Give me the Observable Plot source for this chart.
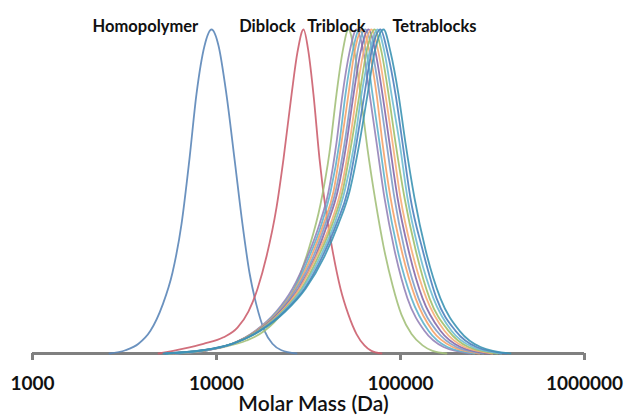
<!DOCTYPE html>
<html>
<head>
<meta charset="utf-8">
<script src="https://cdn.jsdelivr.net/npm/d3@7"></script>
<script src="https://cdn.jsdelivr.net/npm/@observablehq/plot@0.6"></script>
<style>
  html, body { margin: 0; padding: 0; background: #ffffff; }
  #chart { width: 628px; height: 418px; }
</style>
</head>
<body>
<div id="chart"></div>
<script>
// ---- data (log10 of molar mass, normalised intensity) ----
const homopolymerLogMass = [3.418, 3.505, 3.576, 3.641, 3.707, 3.761, 3.810, 3.853, 3.891, 3.935, 3.973, 4.011, 4.054, 4.098, 4.141, 4.179, 4.217, 4.261, 4.304, 4.353, 4.435];
const homopolymerIntensity = [0, 0.01, 0.03, 0.07, 0.15, 0.25, 0.4, 0.6, 0.8, 0.95, 1, 0.95, 0.8, 0.6, 0.4, 0.25, 0.15, 0.07, 0.03, 0.01, 0];

const diblockLogMass = [3.685, 3.821, 3.929, 4.038, 4.114, 4.174, 4.223, 4.272, 4.326, 4.364, 4.408, 4.440, 4.473, 4.500, 4.527, 4.560, 4.592, 4.630, 4.674, 4.717, 4.761, 4.804, 4.842, 4.897];
const diblockIntensity = [0, 0.015, 0.03, 0.05, 0.08, 0.13, 0.2, 0.3, 0.45, 0.6, 0.8, 0.93, 1, 0.93, 0.8, 0.6, 0.45, 0.32, 0.2, 0.12, 0.06, 0.025, 0.008, 0];

const triblockLogMass = [3.739, 3.902, 4.038, 4.163, 4.261, 4.348, 4.424, 4.500, 4.565, 4.614, 4.652, 4.685, 4.717, 4.750, 4.783, 4.821, 4.864, 4.908, 4.957, 5.005, 5.060, 5.120, 5.174, 5.250];
const triblockIntensity = [0, 0.008, 0.02, 0.04, 0.07, 0.12, 0.2, 0.32, 0.46, 0.62, 0.8, 0.93, 1, 0.93, 0.8, 0.63, 0.47, 0.33, 0.21, 0.12, 0.06, 0.025, 0.008, 0];

const tetrablockIntensity = [0, 0.01, 0.03, 0.07, 0.13, 0.2, 0.3, 0.4, 0.5, 0.65, 0.8, 0.93, 1, 0.93, 0.8, 0.65, 0.48, 0.32, 0.17, 0.07, 0.02, 0];
const tetrablock1LogMass  = [3.783, 3.951, 4.087, 4.212, 4.326, 4.413, 4.495, 4.560, 4.609, 4.652, 4.685, 4.723, 4.761, 4.799, 4.832, 4.870, 4.913, 4.967, 5.038, 5.130, 5.234, 5.380];
const tetrablock2LogMass  = [3.777, 3.951, 4.087, 4.217, 4.332, 4.424, 4.505, 4.571, 4.620, 4.668, 4.701, 4.739, 4.777, 4.815, 4.848, 4.886, 4.929, 4.984, 5.060, 5.152, 5.255, 5.402];
const tetrablock3LogMass  = [3.766, 3.946, 4.087, 4.217, 4.337, 4.429, 4.516, 4.582, 4.636, 4.679, 4.717, 4.750, 4.793, 4.832, 4.870, 4.902, 4.946, 5.005, 5.082, 5.174, 5.283, 5.429];
const tetrablock4LogMass  = [3.761, 3.946, 4.087, 4.223, 4.342, 4.435, 4.527, 4.592, 4.647, 4.696, 4.734, 4.766, 4.810, 4.848, 4.886, 4.924, 4.967, 5.022, 5.098, 5.196, 5.304, 5.451];
const tetrablock5LogMass  = [3.750, 3.940, 4.087, 4.223, 4.348, 4.446, 4.538, 4.603, 4.658, 4.707, 4.745, 4.783, 4.826, 4.864, 4.902, 4.940, 4.984, 5.043, 5.120, 5.217, 5.326, 5.478];
const tetrablock6LogMass  = [3.745, 3.935, 4.087, 4.228, 4.353, 4.451, 4.543, 4.620, 4.674, 4.723, 4.761, 4.799, 4.842, 4.880, 4.918, 4.957, 5.000, 5.060, 5.141, 5.239, 5.348, 5.500];
const tetrablock7LogMass  = [3.739, 3.935, 4.087, 4.228, 4.359, 4.462, 4.554, 4.630, 4.685, 4.734, 4.777, 4.815, 4.859, 4.897, 4.935, 4.973, 5.022, 5.082, 5.158, 5.261, 5.370, 5.527];
const tetrablock8LogMass  = [3.728, 3.929, 4.087, 4.234, 4.364, 4.467, 4.565, 4.641, 4.696, 4.750, 4.788, 4.832, 4.875, 4.913, 4.951, 4.995, 5.038, 5.098, 5.179, 5.277, 5.391, 5.549];
const tetrablock9LogMass  = [3.723, 3.924, 4.087, 4.234, 4.370, 4.478, 4.576, 4.652, 4.712, 4.761, 4.804, 4.842, 4.891, 4.929, 4.973, 5.011, 5.054, 5.120, 5.196, 5.299, 5.413, 5.576];
const tetrablock10LogMass = [3.712, 3.924, 4.082, 4.239, 4.375, 4.484, 4.587, 4.663, 4.723, 4.777, 4.821, 4.859, 4.908, 4.946, 4.989, 5.027, 5.076, 5.136, 5.217, 5.321, 5.435, 5.598];

const tickValues = [1000, 10000, 100000, 1000000];
const labelNames = ["Homopolymer", "Diblock", "Triblock", "Tetrablocks"];
const axisTitle = "Molar Mass (Da)";

// ---- build the table ----
const seriesDefs = [
  ["Homopolymer", homopolymerLogMass, homopolymerIntensity, "#5b86b8"],
  ["Diblock", diblockLogMass, diblockIntensity, "#cc5f6e"],
  ["Triblock", triblockLogMass, triblockIntensity, "#a3c07a"],
  ["Tetrablock 1", tetrablock1LogMass, tetrablockIntensity, "#9583b8"],
  ["Tetrablock 2", tetrablock2LogMass, tetrablockIntensity, "#5fb3cc"],
  ["Tetrablock 3", tetrablock3LogMass, tetrablockIntensity, "#f5a268"],
  ["Tetrablock 4", tetrablock4LogMass, tetrablockIntensity, "#7f9fc6"],
  ["Tetrablock 5", tetrablock5LogMass, tetrablockIntensity, "#8568a8"],
  ["Tetrablock 6", tetrablock6LogMass, tetrablockIntensity, "#f7ad78"],
  ["Tetrablock 7", tetrablock7LogMass, tetrablockIntensity, "#9fbf6a"],
  ["Tetrablock 8", tetrablock8LogMass, tetrablockIntensity, "#6fbdd1"],
  ["Tetrablock 9", tetrablock9LogMass, tetrablockIntensity, "#4f81bd"],
  ["Tetrablock 10", tetrablock10LogMass, tetrablockIntensity, "#3c93b4"]
];
const rows = [];
for (const [name, lm, inten, color] of seriesDefs) {
  lm.forEach((v, i) => rows.push({series: name, mass: Math.pow(10, v), intensity: inten[i], color}));
}

// label anchor masses (annotation placement)
const labelAt = [4110, 18900, 44900, 153000];
const labelRows = labelNames.map((t, i) => ({text: t, mass: labelAt[i]}));

const chart = Plot.plot({
  width: 628,
  height: 418,
  marginLeft: 32,
  marginRight: 44,
  marginTop: 29,
  marginBottom: 65,
  x: {type: "log", domain: [1000, 1000000]},
  y: {domain: [0, 1], axis: null},
  color: {type: "identity"},
  style: {fontFamily: "Lato, 'Open Sans', sans-serif", background: "#ffffff", color: "#111"},
  marks: [
    Plot.ruleY([0], {x1: 1000, x2: 1000000, stroke: "#808080", strokeWidth: 3}),
    Plot.axisX({
      ticks: tickValues,
      tickFormat: d3.format("d"),
      tickSize: 7,
      tickPadding: 16,
      stroke: "#808080",
      strokeWidth: 3,
      fill: "#111",
      fontSize: 19,
      fontWeight: "bold",
      label: null
    }),
    Plot.line(rows, {
      x: "mass", y: "intensity", z: "series", stroke: "color",
      curve: "monotone-x", strokeWidth: 1.8, strokeOpacity: 0.9
    }),
    Plot.text(labelRows, {
      x: "mass", y: 1.01, text: "text", fontSize: 16.5, fontWeight: "bold",
      fill: "#111", textAnchor: "middle", lineAnchor: "middle"
    }),
    Plot.text([axisTitle], {
      frameAnchor: "bottom", dx: 5, dy: 51, fontSize: 21, fontWeight: 600,
      fill: "#111", lineAnchor: "middle"
    })
  ]
});
document.getElementById("chart").appendChild(chart);
</script>
</body>
</html>
